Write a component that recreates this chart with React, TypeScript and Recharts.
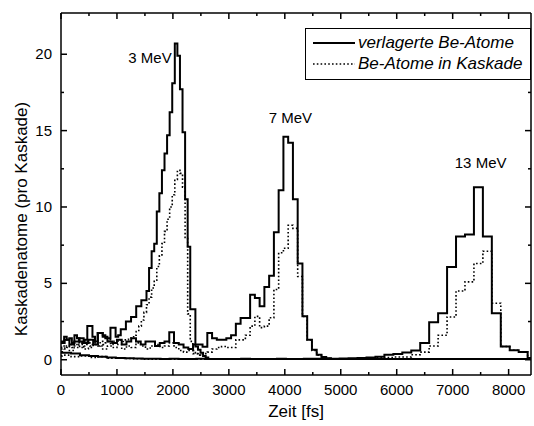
import React from 'react';
import { LineChart, Line, XAxis, YAxis, Legend, ReferenceDot } from 'recharts';

const FONT = '"Liberation Sans", Arial, Helvetica, sans-serif';
const T_MAX = 8400;
const Y_MIN = -1;
const Y_MAX = 22.7;
const LABEL_GAP = 9;

// 3 MeV histogram, bins of 46 fs starting at -36 fs
const start3 = -36;
const width3 = 46;
const solid3 = [
  1.2,
  1.2, 1.5, 1.3, 1.4, 1.1, 1.6, 1.4, 1.2, 1.1, 1.3,
  2.2, 2.2, 1.5, 1.2, 1.75, 1.75, 1.6, 1.4, 1.4, 2.1,
  2.1, 1.5, 1.6, 2.0, 2.0, 2.5, 2.5, 2.8, 2.8, 3.5,
  3.5, 3.9, 3.9, 4.5, 6.0, 7.1, 7.6, 9.7, 10.9, 12.4,
  13.5, 14.7, 16.2, 18.1, 20.7, 19.9, 17.7, 14.9, 10.5, 7.4,
  3.3, 3.3, 0.87, 0.65, 0.45, 0.25, 0.15,
];
const dotted3 = [
  0.8,
  0.9, 0.7, 0.8, 1.0, 0.8, 0.9, 1.1, 0.8, 0.9, 1.0,
  1.2, 0.9, 1.0, 1.1, 0.9, 1.2, 1.0, 1.1, 1.3, 1.0,
  1.2, 1.1, 1.3, 1.2, 1.3, 1.3, 1.4, 1.5, 1.6, 1.85,
  2.2, 2.6, 3.1, 3.6, 4.1, 4.7, 5.2, 6.1, 6.8, 7.6,
  8.4, 9.2, 10.0, 10.8, 11.8, 12.4, 12.2, 11.3, 8.0, 3.0,
  1.2, 0.6, 0.45, 0.3, 0.25, 0.15, 0.1,
];
const tail3 = 0.04;

// 7 MeV histogram, bins of 85 fs starting at -20 fs
const start7 = -20;
const width7 = 85;
const solid7 = [
  1.1, 1.3, 1.0, 1.2, 1.4, 1.1, 1.3, 1.0, 1.75, 1.5,
  1.2, 1.1, 1.3, 1.0, 1.2, 1.4, 1.2, 1.0, 1.2, 1.2,
  0.9, 1.1, 1.2, 1.8, 1.1, 1.0, 0.8, 0.7, 1.0, 1.0,
  0.85, 1.75, 1.4, 1.3, 1.3, 1.4, 1.6, 2.36, 2.73, 2.73,
  4.26, 4.04, 3.5, 4.76, 5.5, 8.34, 11.1, 14.6, 14.2, 10.5,
  6.3, 2.84, 1.3, 0.65, 0.33, 0.18, 0.1,
];
const dotted7 = [
  0.7, 0.9, 0.6, 0.8, 1.0, 0.7, 0.8, 1.0, 0.9, 0.7,
  0.9, 0.8, 1.0, 0.7, 0.9, 0.8, 1.1, 0.9, 0.7, 0.9,
  1.0, 0.8, 0.9, 1.1, 0.8, 0.6, 0.5, 0.6, 0.4, 0.3,
  0.4, 0.5, 0.7, 0.8, 0.87, 0.8, 0.8, 1.3, 1.3, 1.6,
  2.2, 2.84, 2.1, 2.2, 2.75, 4.6, 7.0, 7.3, 8.8, 8.6,
  5.45, 2.84, 1.3, 0.6, 0.3, 0.15, 0.08,
];
const tail7 = 0.04;

// 13 MeV histogram, bins of 160 fs starting at -140 fs
const start13 = -140;
const width13 = 160;
const solid13 = [
  0.5, 0.45, 0.4, 0.3, 0.25, 0.2, 0.15, 0.12, 0.1, 0.08,
  0.06, 0.06, 0.05, 0.06, 0.05, 0.05, 0.06, 0.05, 0.05, 0.05,
  0.05, 0.06, 0.05, 0.05, 0.05, 0.06, 0.05, 0.05, 0.06, 0.06,
  0.07, 0.07, 0.08, 0.1, 0.12, 0.15, 0.2, 0.33, 0.37, 0.48,
  0.61, 1.1, 2.45, 3.05, 6.07, 8.07, 8.2, 11.3, 8.07, 3.05,
  0.87, 0.62, 0.5,
];
const dotted13 = [
  0.25, 0.3, 0.2, 0.25, 0.15, 0.2, 0.1, 0.12, 0.08, 0.06,
  0.04, 0.04, 0.03, 0.04, 0.03, 0.03, 0.04, 0.03, 0.03, 0.03,
  0.03, 0.04, 0.03, 0.03, 0.03, 0.04, 0.03, 0.03, 0.04, 0.04,
  0.04, 0.05, 0.05, 0.06, 0.08, 0.1, 0.12, 0.15, 0.18, 0.18,
  0.33, 0.5, 0.9, 1.6, 2.8, 4.5, 5.1, 6.3, 7.1, 3.7,
  0.87, 0.62, 0.5,
];
const tail13 = 0.12;

const energyLabels = ['3 MeV', '7 MeV', '13 MeV'];
const labelTimes = [1590, 4100, 7500];
const labelCounts = [19.8, 15.85, 12.9];

const xTicks = [0, 500, 1000, 1500, 2000, 2500, 3000, 3500, 4000, 4500, 5000, 5500, 6000, 6500, 7000, 7500, 8000];
const yTicks = [0, 2.5, 5, 7.5, 10, 12.5, 15, 17.5, 20];

const legendItems = [
  { name: 'verlagerte Be-Atome', dash: undefined },
  { name: 'Be-Atome in Kaskade', dash: '1.6 2.2' },
];

function steps(start: number, width: number, values: number[], tail: number) {
  const pts = values.map((v, i) => ({ t: Math.max(0, start + i * width), v }));
  const end = start + values.length * width;
  if (end < T_MAX) pts.push({ t: end, v: tail });
  pts.push({ t: T_MAX, v: tail });
  return pts;
}

const series = [
  { id: 's3', data: steps(start3, width3, solid3, tail3), dash: undefined },
  { id: 'd3', data: steps(start3, width3, dotted3, tail3), dash: '1.6 2.2' },
  { id: 's7', data: steps(start7, width7, solid7, tail7), dash: undefined },
  { id: 'd7', data: steps(start7, width7, dotted7, tail7), dash: '1.6 2.2' },
  { id: 's13', data: steps(start13, width13, solid13, tail13), dash: undefined },
  { id: 'd13', data: steps(start13, width13, dotted13, tail13), dash: '1.6 2.2' },
];

function BottomTick({ x, y, payload }: any) {
  const major = payload.value % 1000 === 0;
  const axisY = y - LABEL_GAP;
  return (
    <g>
      <line x1={x} x2={x} y1={axisY} y2={axisY - (major ? 6 : 3)} stroke="#000" strokeWidth={1.5} />
      {major && (
        <text x={x} y={y} dy={11} textAnchor="middle" fontSize={15} fontFamily={FONT} fill="#000">
          {payload.value}
        </text>
      )}
    </g>
  );
}

function TopTick({ x, y, payload }: any) {
  const major = payload.value % 1000 === 0;
  return <line x1={x} x2={x} y1={y} y2={y + (major ? 6 : 3)} stroke="#000" strokeWidth={1.5} />;
}

function LeftTick({ x, y, payload }: any) {
  const major = payload.value % 5 === 0;
  const axisX = x + LABEL_GAP;
  return (
    <g>
      <line x1={axisX} x2={axisX + (major ? 6 : 3)} y1={y} y2={y} stroke="#000" strokeWidth={1.5} />
      {major && (
        <text x={x} y={y} dy={5} textAnchor="end" fontSize={15} fontFamily={FONT} fill="#000">
          {payload.value}
        </text>
      )}
    </g>
  );
}

function RightTick({ x, y, payload }: any) {
  const major = payload.value % 5 === 0;
  return <line x1={x} x2={x - (major ? 6 : 3)} y1={y} y2={y} stroke="#000" strokeWidth={1.5} />;
}

function LegendBox() {
  return (
    <div
      style={{
        width: 226,
        height: 52,
        boxSizing: 'border-box',
        border: '1px solid #000',
        background: '#fff',
        padding: '3px 0 0 7px',
        fontFamily: FONT,
      }}
    >
      {legendItems.map((item) => (
        <div key={item.name} style={{ display: 'flex', alignItems: 'center', height: 21 }}>
          <svg width={44} height={10}>
            <line x1={0} x2={42} y1={5} y2={5} stroke="#000" strokeWidth={item.dash ? 1.6 : 2} strokeDasharray={item.dash} />
          </svg>
          <span style={{ fontStyle: 'italic', fontSize: 17, lineHeight: '21px', color: '#000', marginLeft: 1 }}>
            {item.name}
          </span>
        </div>
      ))}
    </div>
  );
}

function YTitle({ viewBox }: any) {
  const cx = viewBox.x + 21;
  const cy = viewBox.y + viewBox.height / 2 + 25;
  return (
    <text
      transform={`translate(${cx}, ${cy}) rotate(-90)`}
      textAnchor="middle"
      dominantBaseline="central"
      fontSize={17}
      fontFamily={FONT}
      fill="#000"
    >
      Kaskadenatome (pro Kaskade)
    </text>
  );
}

export default function App() {
  return (
    <div style={{ position: 'absolute', left: 0, top: 0, width: 534, height: 426, background: '#fff' }}>
      <LineChart width={534} height={426} margin={{ top: 0, right: 0, bottom: 0, left: 0 }}>
        <XAxis
          dataKey="t"
          type="number"
          domain={[0, T_MAX]}
          allowDataOverflow
          ticks={xTicks}
          interval={0}
          height={51}
          tickSize={0}
          tickMargin={LABEL_GAP}
          tickLine={false}
          axisLine={{ stroke: '#000', strokeWidth: 1.5 }}
          tick={<BottomTick />}
          label={{ value: 'Zeit [fs]', position: 'insideBottom', offset: 9, fontSize: 17, fontFamily: FONT, fill: '#000' }}
        />
        <XAxis
          xAxisId="top"
          orientation="top"
          dataKey="t"
          type="number"
          domain={[0, T_MAX]}
          allowDataOverflow
          ticks={xTicks}
          interval={0}
          height={13}
          tickSize={0}
          tickMargin={0}
          tickLine={false}
          axisLine={{ stroke: '#000', strokeWidth: 1.5 }}
          tick={<TopTick />}
        />
        <YAxis
          type="number"
          domain={[Y_MIN, Y_MAX]}
          allowDataOverflow
          ticks={yTicks}
          interval={0}
          width={61}
          tickSize={0}
          tickMargin={LABEL_GAP}
          tickLine={false}
          axisLine={{ stroke: '#000', strokeWidth: 1.5 }}
          tick={<LeftTick />}
          label={<YTitle />}
        />
        <YAxis
          yAxisId="right"
          orientation="right"
          type="number"
          domain={[Y_MIN, Y_MAX]}
          allowDataOverflow
          ticks={yTicks}
          interval={0}
          width={3}
          tickSize={0}
          tickMargin={0}
          tickLine={false}
          axisLine={{ stroke: '#000', strokeWidth: 1.5 }}
          tick={<RightTick />}
        />
        {series.map((s) => (
          <Line
            key={s.id}
            data={s.data}
            dataKey="v"
            type="stepAfter"
            stroke="#000"
            strokeWidth={s.dash ? 1.6 : 2}
            strokeDasharray={s.dash}
            dot={false}
            activeDot={false}
            isAnimationActive={false}
          />
        ))}
        {energyLabels.map((name, i) => (
          <ReferenceDot
            key={name}
            x={labelTimes[i]}
            y={labelCounts[i]}
            r={0}
            fill="none"
            stroke="none"
            label={{ value: name, position: 'center', fontSize: 15, fontFamily: FONT, fill: '#000' }}
          />
        ))}
        <Legend
          layout="horizontal"
          verticalAlign="middle"
          align="center"
          wrapperStyle={{ left: 305, top: 28, width: 226 }}
          content={<LegendBox />}
        />
      </LineChart>
    </div>
  );
}
